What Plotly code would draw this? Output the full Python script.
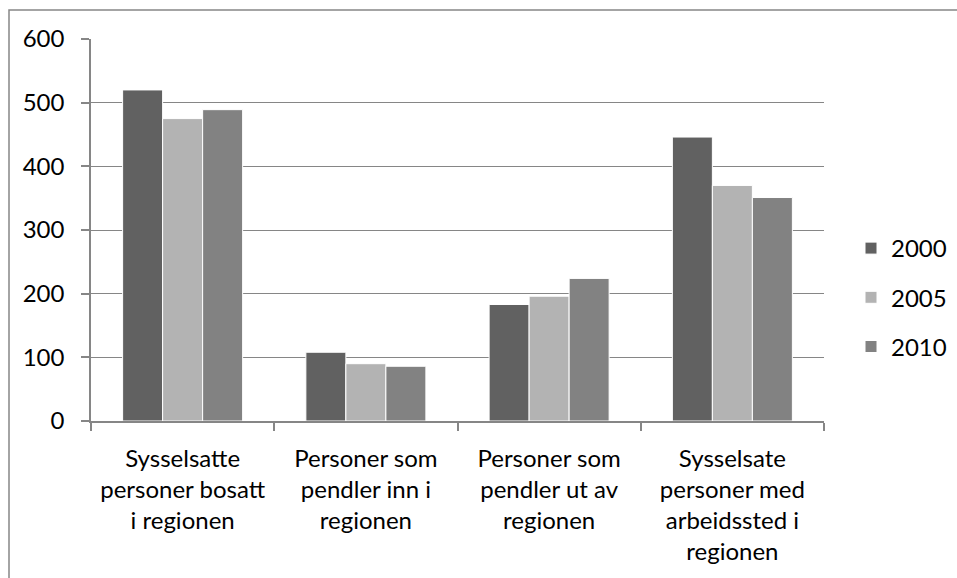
import plotly.graph_objects as go

categories = [
    "Sysselsatte<br>personer bosatt<br>i regionen",
    "Personer som<br>pendler inn i<br>regionen",
    "Personer som<br>pendler ut av<br>regionen",
    "Sysselsate<br>personer med<br>arbeidssted i<br>regionen",
]
series_names = ["2000", "2005", "2010"]
values_2000 = [520, 108, 183, 446]
values_2005 = [475, 90, 196, 370]
values_2010 = [489, 86, 224, 351]
colors = ["#616161", "#b3b3b3", "#828282"]

FONT = "Lato"
FS = 24
fig = go.Figure()
for name, vals, col in zip(series_names, [values_2000, values_2005, values_2010], colors):
    fig.add_trace(go.Bar(
        x=categories, y=vals, name=name, legendgroup=name,
        marker=dict(color=col, line=dict(color="white", width=1)),
    ))

W, H = 957, 578
L, R, T, B = 91, 133, 39, 157
pw, ph = W - L - R, H - T - B

fig.update_layout(
    width=W, height=H,
    margin=dict(l=L, r=R, t=T, b=B, pad=0, autoexpand=False),
    paper_bgcolor="white", plot_bgcolor="white",
    font=dict(family=FONT, size=FS, color="black"),
    barmode="group", bargap=0.345, bargroupgap=0,
    showlegend=True,
    legend=dict(
        x=(851 - L) / pw, xanchor="left",
        y=(H - B - 297.5) / ph, yanchor="middle",
        font=dict(family=FONT, size=FS, color="black"),
        tracegroupgap=15, itemwidth=30,
        bgcolor="rgba(0,0,0,0)",
    ),
    shapes=[dict(
        type="rect", xref="paper", yref="paper",
        x0=(9 - L) / pw, x1=(965 - L) / pw,
        y0=-(590 - (H - B)) / ph, y1=1 + (T - 10) / ph,
        line=dict(color="#868686", width=1.5), fillcolor="rgba(0,0,0,0)",
        layer="below",
    )],
)
fig.update_yaxes(
    range=[0, 600], dtick=100, tick0=0,
    showgrid=True, gridcolor="#868686", gridwidth=1,
    showline=True, linecolor="#868686", linewidth=1.5,
    ticks="outside", ticklen=8, tickcolor="#868686", tickwidth=1.5,
    ticklabelstandoff=12,
    zeroline=False,
    tickfont=dict(family=FONT, size=FS, color="black"),
)
fig.update_xaxes(
    showline=True, linecolor="#868686", linewidth=1.5,
    ticks="outside", ticklen=8, tickcolor="#868686", tickwidth=1.5,
    tickson="boundaries",
    ticklabelstandoff=15,
    tickfont=dict(family=FONT, size=FS, color="black"),
    tickangle=0,
)
fig.write_html(
    "out.html",
    config={"displayModeBar": False},
    post_script="document.body.style.margin='0';document.body.style.overflow='hidden';",
)
